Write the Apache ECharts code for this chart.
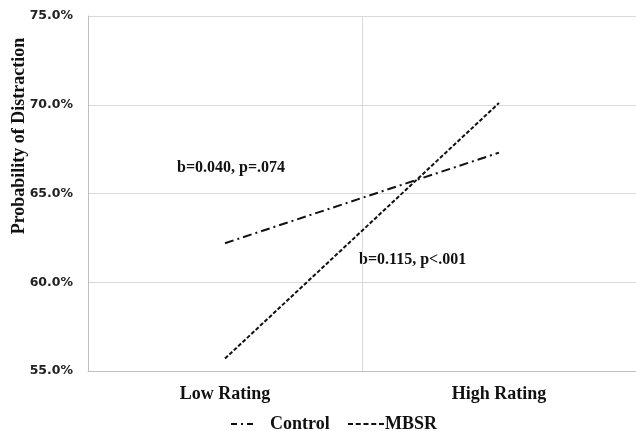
<!DOCTYPE html>
<html><head><meta charset="utf-8">
<script src="https://cdn.jsdelivr.net/npm/echarts@6/dist/echarts.min.js"></script>
<style>html,body{margin:0;padding:0;background:#fff}#c{width:636px;height:431px}</style>
</head><body><div id="c"></div>
<script>
const categories = ['Low Rating', 'High Rating'];
const controlValues = [62.2, 67.3];
const mbsrValues = [55.7, 70.1];
const yTicks = {min: 55, max: 75, interval: 5};
const seriesNames = ['Control', 'MBSR'];
const annotations = ['b=0.040, p=.074', 'b=0.115, p<.001'];
const yTitle = 'Probability of Distraction';

const chart = echarts.init(document.getElementById('c'), null, {renderer: 'canvas'});
const serif = '"Liberation Serif", "Times New Roman", serif';
const sans = '"DejaVu Sans", Verdana, sans-serif';
chart.setOption({
  animation: false,
  backgroundColor: '#fff',
  grid: {left: 88, right: 0, top: 16, bottom: 60},
  xAxis: {
    type: 'category', data: categories, boundaryGap: true,
    axisLine: {lineStyle: {color: '#bfbfbf', width: 1}},
    axisTick: {show: false},
    splitLine: {show: true, lineStyle: {color: '#d9d9d9', width: 1}},
    axisLabel: {color: '#111', fontFamily: serif, fontWeight: 'bold', fontSize: 18, margin: 14}
  },
  yAxis: {
    type: 'value', min: yTicks.min, max: yTicks.max, interval: yTicks.interval,
    axisLine: {show: true, lineStyle: {color: '#bfbfbf', width: 1}},
    axisTick: {show: false},
    splitLine: {lineStyle: {color: '#d9d9d9', width: 1}},
    axisLabel: {color: '#222', fontFamily: sans, fontWeight: 'bold', fontSize: 12.5, margin: 15,
      formatter: v => v.toFixed(1) + '%'}
  },
  legend: [
    {data: [seriesNames[0]], left: 225, top: 410, itemWidth: 22, itemHeight: 10, itemGap: 0,
     itemStyle: {opacity: 0}, lineStyle: {type: [6, 4, 2, 4], width: 2},
     textStyle: {fontFamily: serif, fontWeight: 'bold', fontSize: 18, color: '#111', padding: [0,0,0,12]}},
    {data: [seriesNames[1]], left: 342, top: 410, itemWidth: 36, itemHeight: 10, itemGap: 0,
     itemStyle: {opacity: 0}, lineStyle: {type: [5, 2.75], width: 2},
     textStyle: {fontFamily: serif, fontWeight: 'bold', fontSize: 18, color: '#111', padding: [0,0,0,-4]}}
  ],
  series: [
    {name: seriesNames[0], type: 'line', data: controlValues, symbol: 'none',
     lineStyle: {color: '#111', width: 2, type: [9, 4, 2, 4]}, itemStyle: {color: '#111'}},
    {name: seriesNames[1], type: 'line', data: mbsrValues, symbol: 'none',
     lineStyle: {color: '#111', width: 2, type: [4, 2]}, itemStyle: {color: '#111'}}
  ],
  graphic: [
    {type: 'text', x: 19, y: 136, rotation: Math.PI / 2,
     style: {text: yTitle, fontFamily: serif, fontWeight: 'bold', fontSize: 18, fill: '#111',
       align: 'center', verticalAlign: 'middle'}},
    {type: 'text', x: 177, y: 168,
     style: {text: annotations[0], fontFamily: serif, fontWeight: 'bold', fontSize: 16, fill: '#111',
       align: 'left', verticalAlign: 'middle'}},
    {type: 'text', x: 359, y: 260,
     style: {text: annotations[1], fontFamily: serif, fontWeight: 'bold', fontSize: 16, fill: '#111',
       align: 'left', verticalAlign: 'middle'}}
  ]
});
</script></body></html>
